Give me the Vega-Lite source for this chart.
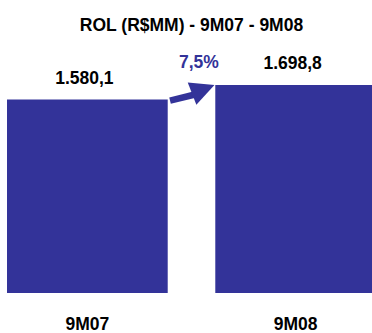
{
  "$schema": "https://vega.github.io/schema/vega-lite/v6.json",
  "width": 383,
  "height": 253,
  "autosize": {"type": "none"},
  "padding": {"left": 0, "top": 40, "right": 0, "bottom": 40},
  "background": "white",
  "title": {"text": "ROL (R$MM) - 9M07 - 9M08", "font": "Liberation Sans", "fontSize": 17.5, "fontWeight": "bold", "color": "black", "anchor": "middle", "baseline": "alphabetic", "offset": -8, "frame": "group"},
  "config": {"view": {"stroke": null}},
  "layer": [
    {
      "data": {"values": [
        {"period": "9M07", "rol": 1580.1, "label": "1.580,1"},
        {"period": "9M08", "rol": 1698.8, "label": "1.698,8"}
      ]},
      "encoding": {
        "x": {"field": "period", "type": "nominal", "sort": null,
          "scale": {"paddingInner": 0.2284, "paddingOuter": 0.03365},
          "axis": {"title": null, "domain": false, "ticks": false, "tickSize": 0, "grid": false, "labelAngle": 0,
            "labelFont": "Liberation Sans", "labelFontSize": 17.5, "labelFontWeight": "bold", "labelColor": "black",
            "labelBaseline": "alphabetic", "labelPadding": 36}},
        "y": {"field": "rol", "type": "quantitative", "scale": {"domain": [0, 2066], "nice": false}, "axis": null}
      },
      "layer": [
        {"mark": {"type": "bar", "color": "#333399"}},
        {"mark": {"type": "text", "font": "Liberation Sans", "fontSize": 17.5, "fontWeight": "bold", "color": "black", "baseline": "alphabetic", "dy": -16, "dx": -3},
          "encoding": {"text": {"field": "label"}}}
      ]
    },
    {
      "layer": [
        {
          "data": {"values": [{"x": 0.398, "y": 1570.6}, {"x": 0.518, "y": 1621}]},
          "mark": {"type": "line", "color": "#333399", "strokeWidth": 6.5, "strokeCap": "butt"},
          "encoding": {
            "x": {"field": "x", "type": "quantitative", "scale": {"domain": [-0.4195, 1.4219], "nice": false, "zero": false}, "axis": null},
            "y": {"field": "y", "type": "quantitative", "scale": {"domain": [0, 2066], "nice": false}, "axis": null}
          }
        },
        {
          "data": {"values": [{"x": 0.5577, "y": 1663}]},
          "mark": {"type": "point", "shape": "M-1,-1L1,0L-1,1Z", "size": 576, "angle": -21, "filled": true, "opacity": 1, "color": "#333399", "strokeWidth": 0},
          "encoding": {
            "x": {"field": "x", "type": "quantitative", "scale": {"domain": [-0.4195, 1.4219], "nice": false, "zero": false}, "axis": null},
            "y": {"field": "y", "type": "quantitative", "scale": {"domain": [0, 2066], "nice": false}, "axis": null}
          }
        },
        {
          "data": {"values": [{"x": 0.537, "y": 1838, "label": "7,5%"}]},
          "mark": {"type": "text", "font": "Liberation Sans", "fontSize": 17.5, "fontWeight": "bold", "color": "#333399", "baseline": "alphabetic", "align": "center"},
          "encoding": {
            "x": {"field": "x", "type": "quantitative", "scale": {"domain": [-0.4195, 1.4219], "nice": false, "zero": false}, "axis": null},
            "y": {"field": "y", "type": "quantitative", "scale": {"domain": [0, 2066], "nice": false}, "axis": null},
            "text": {"field": "label"}
          }
        }
      ]
    }
  ],
  "resolve": {"scale": {"x": "independent"}}
}
